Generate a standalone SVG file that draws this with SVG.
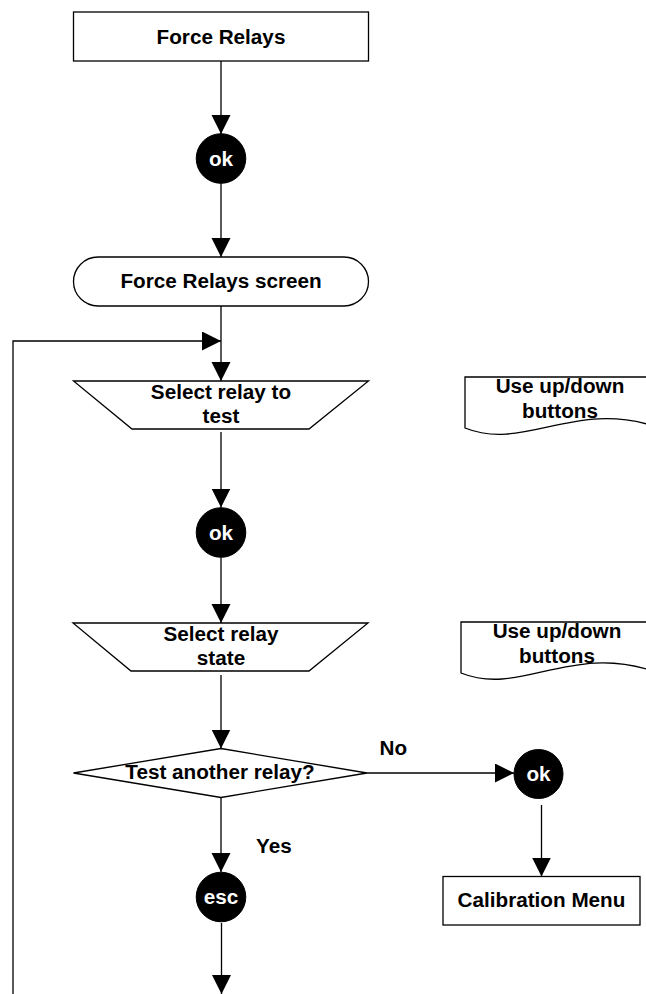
<svg xmlns="http://www.w3.org/2000/svg" width="646" height="994" viewBox="0 0 646 994">
<defs>
<marker id="ah" markerUnits="userSpaceOnUse" markerWidth="20" markerHeight="20" refX="19" refY="9.5" orient="auto" viewBox="0 0 20 20">
<path d="M0,0 L19,9.5 L0,19 z" fill="#000"/>
</marker>
</defs>
<style>
.s{fill:#fff;stroke:#000;stroke-width:1.3}
.c{fill:#000;stroke:#000;stroke-width:1}
.t{font-family:"Liberation Sans",Arial,sans-serif;font-weight:bold;font-size:20.7px;fill:#000;text-anchor:middle}
.w{fill:#fff}
.l{font-family:"Liberation Sans",Arial,sans-serif;font-weight:bold;font-size:20.7px;fill:#000}
.e{fill:none;stroke:#000;stroke-width:1.3;marker-end:url(#ah)}
</style>
<rect width="646" height="994" fill="#fff"/>
<g id="connectors">
<path class="e" d="M221,61 V134"/>
<path class="e" d="M221,183 V257"/>
<path class="e" d="M221,306 V381"/>
<path class="e" d="M13,994 V341 H221"/>
<path class="e" d="M221,432 V507.5"/>
<path class="e" d="M221,557.5 V623"/>
<path class="e" d="M221,675 V748.5"/>
<path class="e" d="M367,773 H514"/>
<path class="e" d="M221,797.5 V872"/>
<path class="e" d="M541.5,805 V876.5"/>
<path class="e" d="M221.5,923 V994"/>
</g>
<g id="force-relays">
<rect class="s" x="73.5" y="12" width="295" height="49"/>
<text class="t" x="221" y="43.5">Force Relays</text>
</g>
<g id="ok1">
<circle class="c" cx="221" cy="158.5" r="24.8"/>
<text class="t w" x="221" y="165.5">ok</text>
</g>
<g id="screen">
<rect class="s" x="73.5" y="257" width="295" height="49" rx="24.5" ry="24.5"/>
<text class="t" x="221" y="288">Force Relays screen</text>
</g>
<g id="select-relay">
<polygon class="s" points="73.5,381 368.5,381 309,429 132,429"/>
<text class="t" x="221" y="399">Select relay to</text>
<text class="t" x="221" y="423">test</text>
</g>
<g id="doc1">
<path class="s" d="M465,377 H660 V428 C575,398 525,452 465,428 Z"/>
<text class="t" x="560" y="393">Use up/down</text>
<text class="t" x="560" y="418">buttons</text>
</g>
<g id="ok2">
<circle class="c" cx="221" cy="532.5" r="24.8"/>
<text class="t w" x="221" y="539.5">ok</text>
</g>
<g id="select-state">
<polygon class="s" points="73,623 368,623 309,671 131,671"/>
<text class="t" x="221" y="641">Select relay</text>
<text class="t" x="221" y="665">state</text>
</g>
<g id="doc2">
<path class="s" d="M461,622 H656 V672 C571,642 521,697 461,673 Z"/>
<text class="t" x="557" y="638">Use up/down</text>
<text class="t" x="557" y="663">buttons</text>
</g>
<g id="decision">
<polygon class="s" points="221,748.5 367,773 221,797.5 73.5,773"/>
<text class="t" x="220" y="779">Test another relay?</text>
</g>
<g id="label-no"><text class="l" x="379.5" y="755">No</text></g>
<g id="ok3">
<circle class="c" cx="538.5" cy="774" r="24.5"/>
<text class="t w" x="538.5" y="781">ok</text>
</g>
<g id="label-yes"><text class="l" x="256" y="853">Yes</text></g>
<g id="esc">
<circle class="c" cx="221" cy="897" r="24.8"/>
<text class="t w" x="221" y="904">esc</text>
</g>
<g id="calibration-menu">
<rect class="s" x="443" y="876.5" width="197" height="48.5"/>
<text class="t" x="541.5" y="907">Calibration Menu</text>
</g>
</svg>
